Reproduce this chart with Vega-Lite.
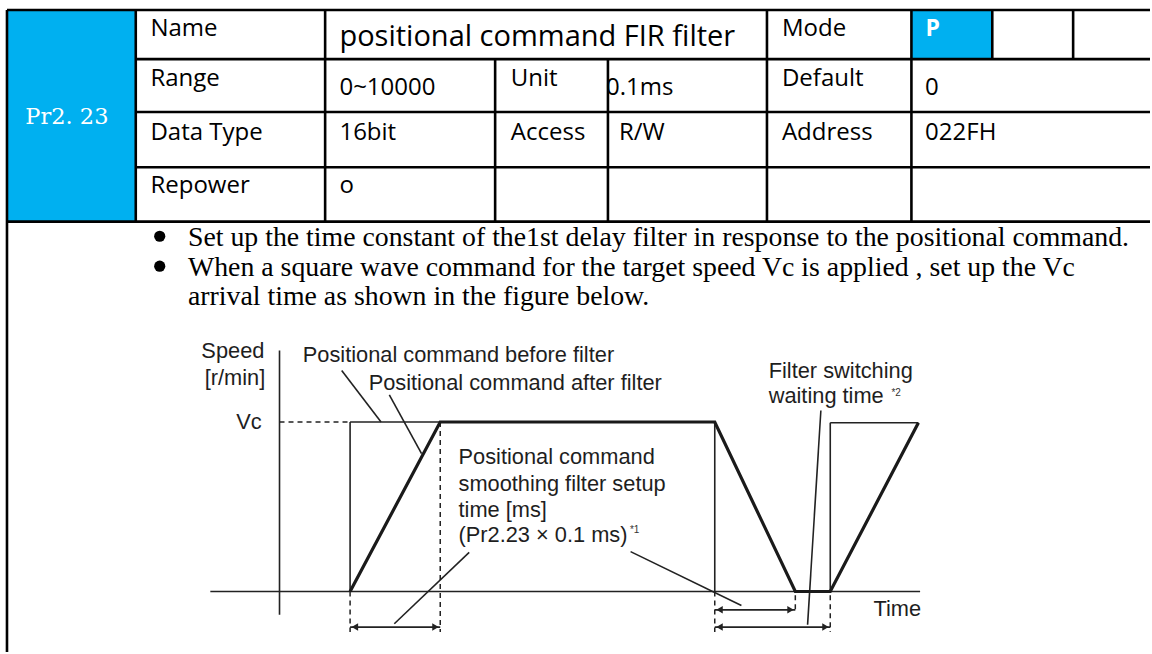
{
  "$schema": "https://vega.github.io/schema/vega-lite/v6.json",
  "width": 1152,
  "height": 654,
  "autosize": {"type": "fit", "contains": "padding"},
  "padding": 0,
  "background": "white",
  "config": {"view": {"stroke": null}, "axis": {"disable": true}},
  "datasets": {
    "fills": [
      {"x": 7, "x2": 136, "y": 10, "y2": 222.3},
      {"x": 913, "x2": 994, "y": 10, "y2": 59.3}
    ],
    "tlines": [
      {"x": 7, "x2": 1152, "y": 10, "y2": 10},
      {"x": 136, "x2": 1152, "y": 59.3, "y2": 59.3},
      {"x": 136, "x2": 1152, "y": 112.3, "y2": 112.3},
      {"x": 136, "x2": 1152, "y": 167.7, "y2": 167.7},
      {"x": 7, "x2": 1152, "y": 222.3, "y2": 222.3},
      {"x": 7, "x2": 7, "y": 10, "y2": 654},
      {"x": 136, "x2": 136, "y": 10, "y2": 222.3},
      {"x": 325.7, "x2": 325.7, "y": 10, "y2": 222.3},
      {"x": 496, "x2": 496, "y": 59.3, "y2": 222.3},
      {"x": 609, "x2": 609, "y": 59.3, "y2": 222.3},
      {"x": 768.3, "x2": 768.3, "y": 10, "y2": 222.3},
      {"x": 913, "x2": 913, "y": 10, "y2": 222.3},
      {"x": 994, "x2": 994, "y": 10, "y2": 59.3},
      {"x": 1075, "x2": 1075, "y": 10, "y2": 59.3}
    ],
    "ttext": [
      {"x": 150.7, "y": 36, "t": "Name"},
      {"x": 783.3, "y": 36, "t": "Mode"},
      {"x": 150.7, "y": 86, "t": "Range"},
      {"x": 511.7, "y": 86, "t": "Unit"},
      {"x": 783.3, "y": 86, "t": "Default"},
      {"x": 340, "y": 95, "t": "0~10000"},
      {"x": 607, "y": 95, "t": "0.1ms"},
      {"x": 926.7, "y": 95, "t": "0"},
      {"x": 150.7, "y": 140, "t": "Data Type"},
      {"x": 340, "y": 140, "t": "16bit"},
      {"x": 511.7, "y": 140, "t": "Access"},
      {"x": 620, "y": 140, "t": "R/W"},
      {"x": 783.3, "y": 140, "t": "Address"},
      {"x": 926.7, "y": 140, "t": "022FH"},
      {"x": 150.7, "y": 194, "t": "Repower"},
      {"x": 340, "y": 194, "t": "o"}
    ],
    "thead": [{"x": 340, "y": 46, "t": "positional command FIR filter"}],
    "pr": [{"x": 67, "y": 124, "t": "Pr2. 23"}],
    "pmode": [{"x": 927, "y": 36, "t": "P"}],
    "bullets": [{"x": 160, "y": 237}, {"x": 160, "y": 267}],
    "btext": [
      {"x": 188.3, "y": 246.7, "t": "Set up the time constant of the1st delay filter in response to the positional command."},
      {"x": 188.3, "y": 276.7, "t": "When a square wave command for the target speed Vc is applied , set up the Vc"},
      {"x": 188.3, "y": 305.5, "t": "arrival time as shown in the figure below."}
    ],
    "thin": [
      {"x": 280, "x2": 280, "y": 351.7, "y2": 616.7},
      {"x": 210.7, "x2": 921.7, "y": 593.3, "y2": 593.3},
      {"x": 350.7, "x2": 350.7, "y": 593.3, "y2": 423.3},
      {"x": 350.7, "x2": 716, "y": 423.3, "y2": 423.3},
      {"x": 716, "x2": 716, "y": 423.3, "y2": 593.3},
      {"x": 831.7, "x2": 831.7, "y": 593.3, "y2": 424},
      {"x": 831.7, "x2": 920, "y": 424, "y2": 424},
      {"x": 342.3, "x2": 381.7, "y": 371.7, "y2": 423.3},
      {"x": 390, "x2": 422.3, "y": 396, "y2": 455},
      {"x": 470, "x2": 395, "y": 554, "y2": 625.7},
      {"x": 631.7, "x2": 742.7, "y": 553.3, "y2": 607.3},
      {"x": 822.3, "x2": 809, "y": 411.7, "y2": 626.7},
      {"x": 350.7, "x2": 441, "y": 629, "y2": 629},
      {"x": 716, "x2": 796.7, "y": 611.7, "y2": 611.7},
      {"x": 716, "x2": 831.7, "y": 629, "y2": 629}
    ],
    "thick": [
      {"i": 1, "x": 350.7, "y": 593.3},
      {"i": 2, "x": 441, "y": 423.3},
      {"i": 3, "x": 716, "y": 423.3},
      {"i": 4, "x": 796.7, "y": 593.3},
      {"i": 5, "x": 831.7, "y": 593.3},
      {"i": 6, "x": 920, "y": 424}
    ],
    "dashed": [
      {"x": 280, "x2": 350.7, "y": 423.3, "y2": 423.3},
      {"x": 441, "x2": 441, "y": 423.3, "y2": 634},
      {"x": 350.7, "x2": 350.7, "y": 593.3, "y2": 634},
      {"x": 716, "x2": 716, "y": 593.3, "y2": 634},
      {"x": 796.7, "x2": 796.7, "y": 597, "y2": 611},
      {"x": 831.7, "x2": 831.7, "y": 597, "y2": 634}
    ],
    "headsL": [
      {"x": 355.5, "y": 629},
      {"x": 720.8, "y": 611.7},
      {"x": 720.8, "y": 629}
    ],
    "headsR": [
      {"x": 436.2, "y": 629},
      {"x": 791.9, "y": 611.7},
      {"x": 826.9, "y": 629}
    ],
    "dtext": [
      {"x": 201.7, "y": 359.3, "t": "Speed"},
      {"x": 205, "y": 386, "t": "[r/min]"},
      {"x": 236.7, "y": 430, "t": "Vc"},
      {"x": 303.3, "y": 363.3, "t": "Positional command before filter"},
      {"x": 369.3, "y": 391, "t": "Positional command after filter"},
      {"x": 459.3, "y": 465, "t": "Positional command"},
      {"x": 459.3, "y": 492.3, "t": "smoothing filter setup"},
      {"x": 459.3, "y": 518.3, "t": "time [ms]"},
      {"x": 459.3, "y": 543.3, "t": "(Pr2.23 × 0.1 ms)"},
      {"x": 770, "y": 379.3, "t": "Filter switching"},
      {"x": 770, "y": 404, "t": "waiting time"},
      {"x": 875, "y": 618.3, "t": "Time"}
    ],
    "sup": [
      {"x": 631, "y": 535, "t": "*1"},
      {"x": 893, "y": 397, "t": "*2"}
    ]
  },
  "layer": [
    {
      "data": {"name": "fills"},
      "mark": {"type": "rect", "color": "#00B0F0"},
      "encoding": {
        "x": {"field": "x", "type": "quantitative", "scale": {"domain": [0, 1152], "nice": false, "zero": false}, "axis": null},
        "x2": {"field": "x2"},
        "y": {"field": "y", "type": "quantitative", "scale": {"domain": [0, 654], "nice": false, "zero": false, "reverse": true}, "axis": null},
        "y2": {"field": "y2"}
      }
    },
    {
      "data": {"name": "ttext"},
      "mark": {"type": "text", "font": "Open Sans", "fontSize": 24, "align": "left", "baseline": "alphabetic", "color": "#000000"},
      "encoding": {
        "x": {"field": "x", "type": "quantitative"},
        "y": {"field": "y", "type": "quantitative"},
        "text": {"field": "t"}
      }
    },
    {
      "data": {"name": "thead"},
      "mark": {"type": "text", "font": "Open Sans", "fontSize": 29, "align": "left", "baseline": "alphabetic", "color": "#000000"},
      "encoding": {
        "x": {"field": "x", "type": "quantitative"},
        "y": {"field": "y", "type": "quantitative"},
        "text": {"field": "t"}
      }
    },
    {
      "data": {"name": "pr"},
      "mark": {"type": "text", "font": "DejaVu Serif", "fontSize": 22.5, "align": "center", "baseline": "alphabetic", "color": "#ffffff"},
      "encoding": {
        "x": {"field": "x", "type": "quantitative"},
        "y": {"field": "y", "type": "quantitative"},
        "text": {"field": "t"}
      }
    },
    {
      "data": {"name": "pmode"},
      "mark": {"type": "text", "font": "Open Sans", "fontSize": 23, "fontWeight": "bold", "align": "left", "baseline": "alphabetic", "color": "#ffffff"},
      "encoding": {
        "x": {"field": "x", "type": "quantitative"},
        "y": {"field": "y", "type": "quantitative"},
        "text": {"field": "t"}
      }
    },
    {
      "data": {"name": "tlines"},
      "mark": {"type": "rule", "color": "#000000", "strokeWidth": 2.6},
      "encoding": {
        "x": {"field": "x", "type": "quantitative"},
        "x2": {"field": "x2"},
        "y": {"field": "y", "type": "quantitative"},
        "y2": {"field": "y2"}
      }
    },
    {
      "data": {"name": "bullets"},
      "mark": {"type": "point", "shape": "circle", "filled": true, "color": "#000000", "size": 125, "opacity": 1},
      "encoding": {
        "x": {"field": "x", "type": "quantitative"},
        "y": {"field": "y", "type": "quantitative"}
      }
    },
    {
      "data": {"name": "btext"},
      "mark": {"type": "text", "font": "Liberation Serif", "fontSize": 27.8, "align": "left", "baseline": "alphabetic", "color": "#000000"},
      "encoding": {
        "x": {"field": "x", "type": "quantitative"},
        "y": {"field": "y", "type": "quantitative"},
        "text": {"field": "t"}
      }
    },
    {
      "data": {"name": "thin"},
      "mark": {"type": "rule", "color": "#222222", "strokeWidth": 1.6},
      "encoding": {
        "x": {"field": "x", "type": "quantitative"},
        "x2": {"field": "x2"},
        "y": {"field": "y", "type": "quantitative"},
        "y2": {"field": "y2"}
      }
    },
    {
      "data": {"name": "dashed"},
      "mark": {"type": "rule", "color": "#222222", "strokeWidth": 1.5, "strokeDash": [5, 4]},
      "encoding": {
        "x": {"field": "x", "type": "quantitative"},
        "x2": {"field": "x2"},
        "y": {"field": "y", "type": "quantitative"},
        "y2": {"field": "y2"}
      }
    },
    {
      "data": {"name": "thick"},
      "mark": {"type": "line", "color": "#1a1a1a", "strokeWidth": 3.2, "strokeJoin": "miter"},
      "encoding": {
        "x": {"field": "x", "type": "quantitative"},
        "y": {"field": "y", "type": "quantitative"},
        "order": {"field": "i", "type": "quantitative"}
      }
    },
    {
      "data": {"name": "headsL"},
      "mark": {"type": "point", "shape": "triangle-left", "filled": true, "color": "#222222", "size": 55, "opacity": 1},
      "encoding": {
        "x": {"field": "x", "type": "quantitative"},
        "y": {"field": "y", "type": "quantitative"}
      }
    },
    {
      "data": {"name": "headsR"},
      "mark": {"type": "point", "shape": "triangle-right", "filled": true, "color": "#222222", "size": 55, "opacity": 1},
      "encoding": {
        "x": {"field": "x", "type": "quantitative"},
        "y": {"field": "y", "type": "quantitative"}
      }
    },
    {
      "data": {"name": "dtext"},
      "mark": {"type": "text", "font": "Liberation Sans", "fontSize": 21.8, "align": "left", "baseline": "alphabetic", "color": "#1e1e1e"},
      "encoding": {
        "x": {"field": "x", "type": "quantitative"},
        "y": {"field": "y", "type": "quantitative"},
        "text": {"field": "t"}
      }
    },
    {
      "data": {"name": "sup"},
      "mark": {"type": "text", "font": "Liberation Sans", "fontSize": 10, "align": "left", "baseline": "alphabetic", "color": "#333333"},
      "encoding": {
        "x": {"field": "x", "type": "quantitative"},
        "y": {"field": "y", "type": "quantitative"},
        "text": {"field": "t"}
      }
    }
  ]
}
